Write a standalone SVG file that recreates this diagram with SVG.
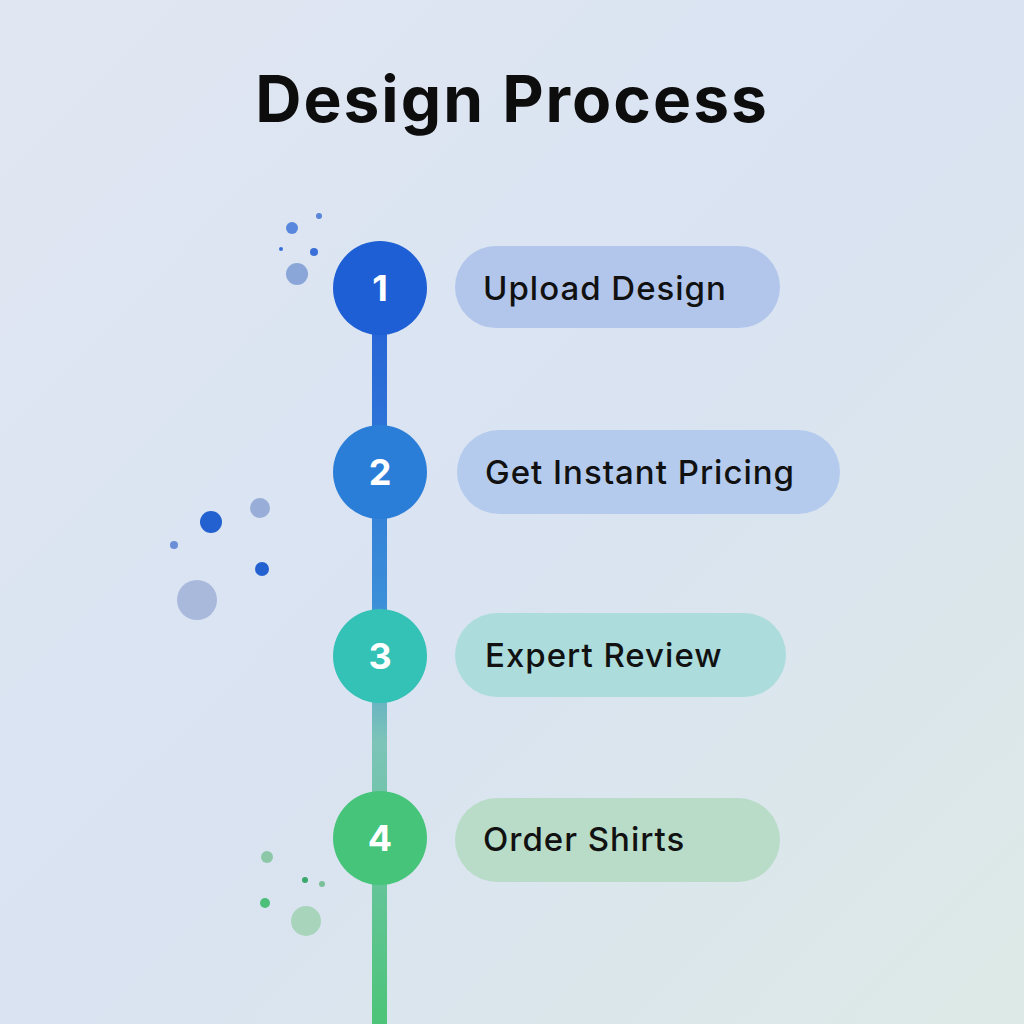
<svg xmlns="http://www.w3.org/2000/svg" width="1024" height="1024" viewBox="0 0 1024 1024">
<defs>
<linearGradient id="bg" x1="0" y1="0" x2="1" y2="1">
<stop offset="0" stop-color="#e1e7f2"/><stop offset="0.5" stop-color="#d9e3f2"/><stop offset="1" stop-color="#dde9e6"/>
</linearGradient>
<linearGradient id="line" x1="0" y1="0" x2="0" y2="1">
<stop offset="0" stop-color="#2563d6"/><stop offset="0.4" stop-color="#3b8fd8"/><stop offset="0.6" stop-color="#7cc4b8"/><stop offset="1" stop-color="#4cc478"/>
</linearGradient>
<style>
.lbl{font-family:"Inter","Liberation Sans",sans-serif;font-size:33px;font-weight:500;fill:#111;letter-spacing:1px}
.num{font-family:"Inter","Liberation Sans",sans-serif;font-size:36px;font-weight:700;fill:#fff;text-anchor:middle}
</style>
</defs>
<rect width="1024" height="1024" fill="url(#bg)"/>
<text x="512" y="122" text-anchor="middle" font-family="Inter,'Liberation Sans',sans-serif" font-size="64" font-weight="700" letter-spacing="2" fill="#0d0d0d">Design Process</text>
<g id="connectors"><rect x="372" y="320" width="15" height="704" fill="url(#line)"/></g>
<g id="decor">
<circle cx="292" cy="228" r="6" fill="#3a6fd8" opacity="0.8"/><circle cx="319" cy="216" r="3" fill="#5a85d8"/><circle cx="314" cy="252" r="4" fill="#3a6fd8"/><circle cx="281" cy="249" r="2" fill="#3a6fd8"/><circle cx="297" cy="274" r="11" fill="#8aa6d8"/>
<circle cx="211" cy="522" r="11" fill="#2461d0"/><circle cx="260" cy="508" r="10" fill="#98add8"/><circle cx="262" cy="569" r="7" fill="#2461d0"/><circle cx="174" cy="545" r="4" fill="#6a8ed8"/><circle cx="197" cy="600" r="20" fill="#a8b9dc"/>
<circle cx="267" cy="857" r="6" fill="#8cc8a8"/><circle cx="305" cy="880" r="3" fill="#3aa86a"/><circle cx="322" cy="884" r="3" fill="#7cc09a"/><circle cx="265" cy="903" r="5" fill="#4cbf7a"/><circle cx="306" cy="921" r="15" fill="#a8d4bc"/>
</g>
<g id="step1"><circle cx="380" cy="288" r="47" fill="#1f5fd6"/><text class="num" x="380" y="301">1</text><rect x="455" y="246" width="325" height="82" rx="41" fill="#b2c6ec"/><text class="lbl" x="483" y="300">Upload Design</text></g>
<g id="step2"><circle cx="380" cy="472" r="47" fill="#2a7ed8"/><text class="num" x="380" y="485">2</text><rect x="457" y="430" width="383" height="84" rx="42" fill="#b4cbee"/><text class="lbl" x="485" y="484">Get Instant Pricing</text></g>
<g id="step3"><circle cx="380" cy="656" r="47" fill="#34c1b6"/><text class="num" x="380" y="669">3</text><rect x="455" y="613" width="331" height="84" rx="42" fill="#acdcdc"/><text class="lbl" x="485" y="667">Expert Review</text></g>
<g id="step4"><circle cx="380" cy="838" r="47" fill="#46c47a"/><text class="num" x="380" y="851">4</text><rect x="455" y="798" width="325" height="84" rx="42" fill="#b8dcc8"/><text class="lbl" x="483" y="851">Order Shirts</text></g>
</svg>
